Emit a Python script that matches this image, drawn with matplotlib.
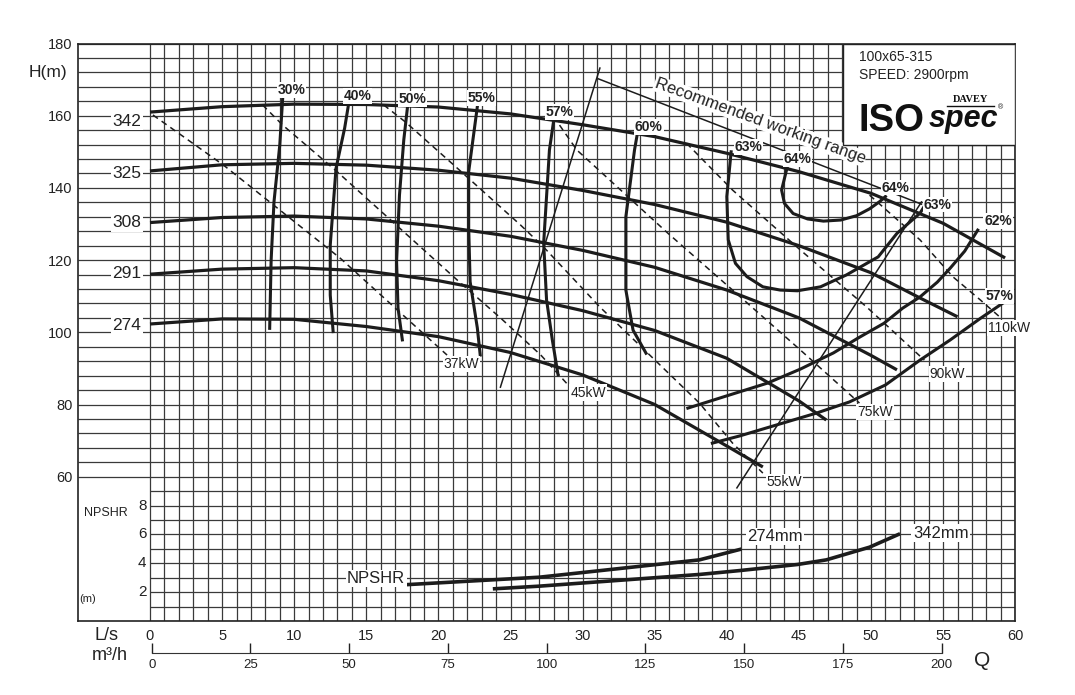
import matplotlib.pyplot as plt
from matplotlib.patches import Rectangle

plt.rcParams['font.family'] = ['Liberation Sans', 'DejaVu Sans']

# head curves, Q (L/s) vs H (m), one per impeller diameter (mm)
diameters = ['342', '325', '308', '291', '274']
label_h = [158.4, 144.0, 130.3, 116.4, 102.0]
q_342 = [0, 5, 10, 15, 20, 25, 30, 35, 40, 45, 50, 55, 59.3]
h_342 = [161.0, 162.5, 163.2, 163.1, 162.4, 160.5, 157.5, 154.2, 149.6, 144.5, 138.5, 130.2, 120.6]
q_325 = [0, 5, 10, 15, 20, 25, 30, 35, 40, 45, 50, 53.4, 56.0]
h_325 = [144.7, 146.4, 146.8, 146.3, 144.9, 142.7, 139.3, 135.4, 130.5, 124.0, 116.5, 109.5, 104.3]
q_308 = [0, 5, 10, 15, 20, 25, 30, 35, 40, 45, 50, 51.8]
h_308 = [130.4, 131.8, 132.2, 131.4, 129.4, 126.6, 122.7, 118.0, 111.7, 104.0, 93.6, 89.6]
q_291 = [0, 5, 10, 15, 20, 25, 30, 35, 40, 45, 46.9]
h_291 = [116.1, 117.5, 117.9, 117.0, 114.3, 110.5, 106.0, 100.5, 92.8, 81.0, 75.7]
q_274 = [0, 5, 10, 15, 20, 25, 30, 35, 40, 42.5]
h_274 = [102.3, 103.7, 103.6, 101.6, 98.8, 94.4, 88.2, 80.0, 68.5, 62.7]
head_q = [q_342, q_325, q_308, q_291, q_274]
head_h = [h_342, h_325, h_308, h_291, h_274]

# iso-efficiency curves
eff_30_q = [9.2, 9.0, 8.6, 8.4, 8.3]
eff_30_h = [164.8, 151.9, 136.2, 120.0, 101.1]
eff_40_q = [13.8, 13.5, 12.9, 12.5, 12.5, 12.7]
eff_40_h = [163.9, 156.6, 145.4, 124.2, 110.3, 100.2]
eff_50_q = [17.9, 17.6, 17.3, 17.1, 17.2, 17.5]
eff_50_h = [163.9, 153.3, 138.0, 119.6, 106.7, 97.9]
eff_55_q = [22.7, 22.1, 22.1, 22.2, 22.7, 22.9]
eff_55_h = [162.5, 144.5, 128.9, 114.0, 101.2, 93.7]
eff_57_q = [28.0, 27.7, 27.3, 27.5, 27.9, 28.3]
eff_57_h = [158.8, 150.5, 124.7, 109.0, 97.9, 88.2]
eff_60_q = [33.8, 33.6, 33.0, 33.0, 33.5, 34.4]
eff_60_h = [155.1, 150.5, 132.0, 111.7, 100.6, 94.2]
eff_63_q = [40.3, 40.0, 40.1, 40.6, 41.4, 42.5, 43.7, 44.9, 46.5, 48.3, 50.5, 51.8, 53.4, 53.9]
eff_63_h = [150.0, 137.6, 125.6, 119.1, 115.4, 112.6, 111.7, 111.5, 112.6, 115.9, 120.9, 127.4, 133.0, 136.2]
eff_64_q = [44.2, 43.8, 44.0, 44.6, 45.6, 46.7, 47.9, 49.0, 49.9, 50.6, 51.0]
eff_64_h = [145.9, 139.4, 135.7, 132.9, 131.4, 130.8, 131.1, 132.3, 134.2, 136.2, 137.6]
eff_62_q = [37.3, 40.0, 42.8, 45.1, 47.4, 49.1, 50.9, 52.2, 53.4, 54.6, 55.5, 56.5, 57.4]
eff_62_h = [79.0, 82.4, 85.9, 89.8, 94.3, 98.4, 102.5, 106.7, 109.8, 113.9, 117.8, 122.5, 128.3]
eff_57r_q = [39.0, 40.9, 43.0, 46.2, 48.5, 51.0, 53.4, 55.5, 57.6, 59.3]
eff_57r_h = [69.3, 71.3, 73.8, 77.6, 80.7, 85.4, 92.3, 97.9, 103.9, 108.5]
eff_q = [eff_30_q, eff_40_q, eff_50_q, eff_55_q, eff_57_q, eff_60_q,
         eff_63_q, eff_64_q, eff_62_q, eff_57r_q]
eff_h = [eff_30_h, eff_40_h, eff_50_h, eff_55_h, eff_57_h, eff_60_h,
         eff_63_h, eff_64_h, eff_62_h, eff_57r_h]
eff_labels = ['30%', '40%', '50%', '55%', '57%', '60%', '63%', '64%', '64%', '63%', '62%', '57%']
eff_label_q = [9.8, 14.4, 18.2, 23.0, 28.4, 34.6, 41.5, 44.9, 51.7, 54.6, 58.8, 58.9]
eff_label_h = [167.1, 165.5, 164.6, 164.9, 161.0, 156.9, 151.3, 148.0, 140.1, 135.4, 130.8, 110.1]

# motor power lines
kw_labels = ['37kW', '45kW', '55kW', '75kW', '90kW', '110kW']
kw37_q = [0.2, 5.1, 13.2, 20.6]
kw37_h = [160.2, 146.3, 120.5, 93.7]
kw45_q = [7.8, 9.2, 13.0, 17.3, 21.3, 24.3, 27.1, 29.0]
kw45_h = [163.0, 157.4, 144.4, 128.9, 114.5, 104.0, 93.7, 85.4]
kw55_q = [16.2, 17.7, 21.3, 25.7, 27.3, 31.2, 34.5, 38.1, 40.4, 42.5]
kw55_h = [163.0, 158.3, 145.5, 129.7, 123.6, 107.0, 94.3, 80.4, 69.3, 61.0]
kw75_q = [28.4, 29.6, 35.9, 40.4, 45.1, 49.2]
kw75_h = [157.4, 150.5, 127.5, 111.7, 95.1, 80.4]
kw90_q = [37.2, 40.4, 45.1, 49.7, 53.7]
kw90_h = [152.4, 139.4, 122.8, 107.0, 92.3]
kw110_q = [49.9, 53.4, 55.7, 57.6, 59.0]
kw110_h = [138.0, 125.6, 115.3, 108.9, 104.0]
kw_q = [kw37_q, kw45_q, kw55_q, kw75_q, kw90_q, kw110_q]
kw_h = [kw37_h, kw45_h, kw55_h, kw75_h, kw90_h, kw110_h]
kw_label_q = [21.6, 30.4, 44.0, 50.3, 55.3, 59.6]
kw_label_h = [91.2, 83.3, 58.5, 77.9, 88.4, 101.2]

# recommended working range
rec_left_q = [31.2, 24.3]
rec_left_h = [173.2, 84.8]
rec_right_q = [53.5, 40.7]
rec_right_h = [136.1, 56.9]
rec_top_q = [31.1, 53.5]
rec_top_h = [170.2, 135.5]

# NPSHR (m)
npsh_274_q = [17.9, 27.0, 38.1, 40.9]
npsh_274 = [2.53, 3.04, 4.24, 4.96]
npsh_342_q = [23.9, 27.0, 38.1, 40.9, 44.9, 46.9, 49.9, 51.9]
npsh_342 = [2.24, 2.42, 3.23, 3.50, 3.92, 4.24, 5.12, 6.0]
npsh_ticks = [2, 4, 6, 8]

q_ticks = list(range(0, 61, 5))
h_ticks = list(range(60, 181, 20))
m3h_ticks = list(range(0, 201, 25))

W, H = 1075, 695
ink = '#1c1c1c'
fig = plt.figure(figsize=(W / 100, H / 100), dpi=100)
ax = fig.add_axes([77.9 / W, 1 - 621.1 / H, 937.3 / W, 577.6 / H])
ax.set_xlim(-5, 60)
ax.set_ylim(20, 180)

# grid
ax.vlines(range(0, 61), 20, 180, color='#3a3a3a', lw=0.9, zorder=1)
for h in range(20, 181, 4):
    ax.hlines(h, -5 if h >= 60 else 0, 60, color='#3a3a3a', lw=0.9, zorder=1)

for s in ax.spines.values():
    s.set_linewidth(1.2)
    s.set_color('#222')
ax.set_xticks(q_ticks)
ax.set_yticks(h_ticks)
ax.tick_params(length=0, labelsize=10.5, colors='#222')
ax.tick_params(axis='x', pad=6)
ax.tick_params(axis='y', pad=4)

for q, h in zip(head_q, head_h):
    ax.plot(q, h, color=ink, lw=2.3, zorder=4, solid_capstyle='butt')
for d, h in zip(diameters, label_h):
    ax.text(-0.6, h, d, ha='right', va='center', fontsize=12.5, color='#222', zorder=5,
            bbox=dict(fc='white', ec='none', pad=1))

for q, h in zip(eff_q, eff_h):
    ax.plot(q, h, color=ink, lw=2.2, zorder=4)
for t, q, h in zip(eff_labels, eff_label_q, eff_label_h):
    ax.text(q, h, t, ha='center', va='center', fontsize=10, fontweight='bold', color='#222',
            zorder=5, bbox=dict(fc='white', ec='none', pad=0.6))

for q, h in zip(kw_q, kw_h):
    ax.plot(q, h, color=ink, lw=1.1, ls=(0, (4, 3)), zorder=3)
for t, q, h in zip(kw_labels, kw_label_q, kw_label_h):
    ax.text(q, h, t, ha='center', va='center', fontsize=10, color='#222', zorder=5,
            clip_on=False, bbox=dict(fc='white', ec='none', pad=0.8))

for q, h in [(rec_left_q, rec_left_h), (rec_right_q, rec_right_h), (rec_top_q, rec_top_h)]:
    ax.plot(q, h, color=ink, lw=1.1, zorder=3)
ax.text(42.3, 158.5, 'Recommended working range', rotation=-20, rotation_mode='anchor',
        ha='center', va='center', fontsize=12, color='#222', zorder=5,
        bbox=dict(fc='white', ec='none', pad=0.5))

# title block
ax.add_patch(Rectangle((48.06, 151.9), 11.94, 28.1, fc='white', ec='#222', lw=1.0, zorder=6))
ax.text(49.2, 176.3, '100x65-315', ha='left', va='center', fontsize=10, color='#222', zorder=7)
ax.text(49.2, 171.3, 'SPEED: 2900rpm', ha='left', va='center', fontsize=10, color='#222', zorder=7)
ax.text(49.1, 155.8, 'ISO', ha='left', va='baseline', fontsize=27.5, fontweight='bold',
        color='#111', zorder=7)
ax.text(54.0, 156.9, 'spec', ha='left', va='baseline', fontsize=22, fontweight='bold',
        style='italic', color='#111', zorder=7)
ax.text(56.9, 164.4, 'DAVEY', ha='center', va='center', fontsize=7.5, fontweight='bold',
        family=['Liberation Serif', 'DejaVu Serif'], color='#111', zorder=7)
ax.plot([55.3, 58.5], [162.7, 162.7], color='#111', lw=1.0, zorder=7)
ax.text(59.0, 162.2, '®', ha='center', va='center', fontsize=5, color='#111', zorder=7)

# NPSHR on its own scale
axn = ax.twinx()
axn.set_ylim(0, 40)
axn.set_axis_off()
axn.plot(npsh_274_q, npsh_274, color=ink, lw=2.6, zorder=4)
axn.plot(npsh_342_q, npsh_342, color=ink, lw=2.6, zorder=4)
for n in npsh_ticks:
    axn.text(-0.25, n, str(n), ha='right', va='center', fontsize=11, color='#222')
axn.text(17.7, 2.94, 'NPSHR', ha='right', va='center', fontsize=12, color='#222', zorder=5,
         bbox=dict(fc='white', ec='none', pad=1))
axn.text(41.4, 5.86, '274mm', ha='left', va='center', fontsize=12, color='#222', zorder=5,
         bbox=dict(fc='white', ec='none', pad=1))
axn.text(52.9, 6.1, '342mm', ha='left', va='center', fontsize=12, color='#222', zorder=5,
         bbox=dict(fc='white', ec='none', pad=1))

# second flow scale in m3/h
axm = fig.add_axes([151.7 / W, 1 - 653 / H, 790 / W, 0.0001])
axm.set_xlim(0, 200)
axm.set_xticks(m3h_ticks)
axm.patch.set_visible(False)
for k in ['top', 'left', 'right']:
    axm.spines[k].set_visible(False)
axm.spines['bottom'].set_color('#333')
axm.yaxis.set_visible(False)
axm.tick_params(axis='x', direction='in', length=7, width=1, pad=4, labelsize=9.5,
                colors='#222')

fig.text(48 / W, 1 - 72 / H, 'H(m)', ha='center', va='center', fontsize=12.5, color='#222')
fig.text(106 / W, 1 - 636 / H, 'L/s', ha='center', va='center', fontsize=13, color='#222')
fig.text(110 / W, 1 - 656 / H, 'm³/h', ha='center', va='center', fontsize=13, color='#222')
fig.text(982 / W, 1 - 660 / H, 'Q', ha='center', va='center', fontsize=15, color='#222')
fig.text(106 / W, 1 - 513 / H, 'NPSHR', ha='center', va='center', fontsize=9, color='#222')
fig.text(88 / W, 1 - 599 / H, '(m)', ha='center', va='center', fontsize=8, color='#222')

fig.savefig('out.png', dpi=100)
